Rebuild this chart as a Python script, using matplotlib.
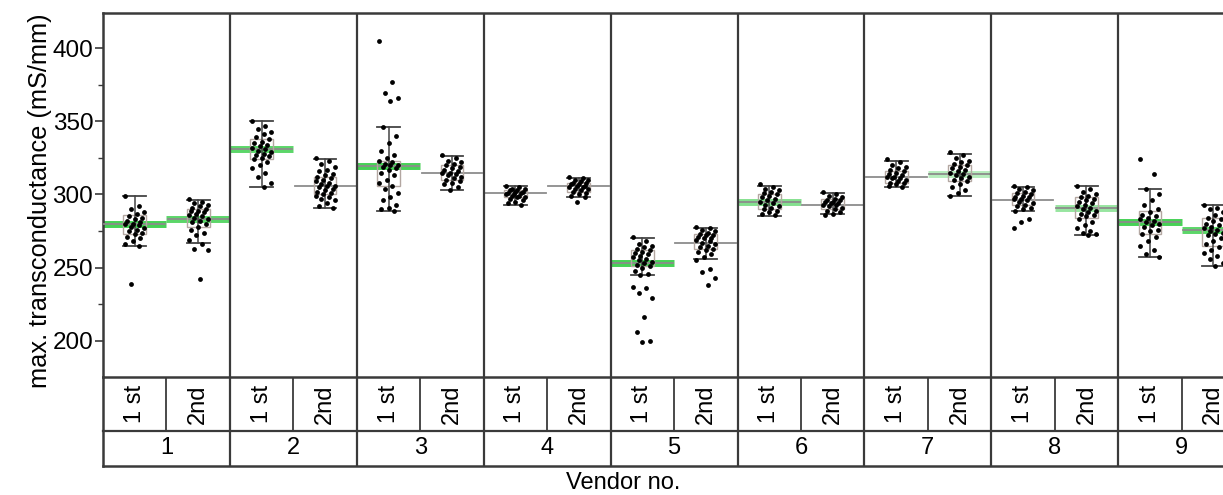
import numpy as np
import matplotlib
matplotlib.use("Agg")
import matplotlib.pyplot as plt

plt.rcParams['font.family'] = ['Liberation Sans', 'DejaVu Sans']

vendors = ["1", "2", "3", "4", "5", "6", "7", "8", "9"]
runs = ["1 st", "2nd"]

points = [
    [299, 292, 290, 288, 287, 285, 284, 283, 282, 281, 280, 280, 279, 278, 277, 276, 275, 274, 273, 271, 270, 268, 266, 265, 239],
    [297, 295, 294, 293, 292, 291, 290, 289, 289, 288, 287, 286, 285, 284, 283, 282, 281, 280, 278, 276, 274, 272, 269, 266, 263, 262, 242],
    [350, 347, 345, 343, 341, 339, 338, 336, 335, 334, 333, 332, 331, 330, 329, 328, 327, 326, 325, 324, 322, 320, 318, 315, 312, 308, 305],
    [325, 323, 321, 319, 317, 316, 314, 313, 312, 311, 310, 309, 308, 307, 306, 306, 305, 304, 303, 302, 301, 300, 299, 298, 297, 296, 294, 292, 291],
    [405, 377, 369, 366, 364, 346, 340, 335, 330, 327, 325, 323, 322, 321, 320, 320, 319, 318, 317, 315, 313, 310, 308, 306, 304, 301, 298, 296, 293, 291, 290, 289],
    [327, 325, 323, 322, 321, 320, 319, 318, 317, 316, 315, 315, 314, 313, 312, 311, 310, 309, 308, 307, 305, 303],
    [306, 305, 304, 304, 303, 303, 302, 302, 301, 301, 300, 300, 299, 299, 298, 298, 297, 296, 295, 294, 293],
    [312, 311, 310, 310, 309, 308, 308, 307, 307, 306, 306, 305, 305, 304, 304, 303, 302, 301, 300, 299, 298, 295],
    [271, 268, 266, 265, 264, 263, 262, 261, 260, 259, 258, 257, 256, 255, 254, 253, 252, 251, 250, 248, 246, 245, 237, 236, 233, 229, 216, 206, 200, 199],
    [278, 277, 276, 275, 274, 273, 272, 272, 271, 270, 270, 269, 268, 267, 266, 265, 264, 263, 262, 261, 259, 257, 255, 249, 247, 243, 238],
    [307, 305, 304, 303, 302, 301, 300, 299, 298, 297, 296, 295, 294, 293, 292, 291, 290, 289, 288, 287, 286],
    [302, 300, 299, 298, 297, 296, 296, 295, 295, 294, 294, 293, 293, 292, 291, 290, 289, 288, 287, 286],
    [324, 322, 320, 319, 318, 317, 316, 315, 314, 313, 312, 312, 311, 311, 310, 309, 308, 308, 307, 306, 305],
    [329, 327, 325, 323, 322, 321, 320, 319, 318, 317, 316, 315, 314, 313, 312, 311, 310, 309, 307, 305, 303, 301, 299],
    [306, 305, 304, 303, 302, 301, 300, 299, 298, 298, 297, 297, 296, 295, 294, 293, 292, 291, 290, 289, 283, 281, 277],
    [306, 304, 302, 300, 299, 298, 297, 296, 295, 294, 293, 292, 291, 290, 289, 288, 287, 286, 285, 283, 281, 279, 277, 275, 274, 273, 272],
    [324, 314, 304, 300, 296, 293, 290, 288, 286, 285, 284, 283, 282, 281, 280, 279, 278, 276, 275, 273, 271, 268, 265, 262, 259, 257],
    [293, 291, 290, 288, 286, 284, 283, 282, 280, 279, 278, 277, 276, 275, 274, 273, 272, 270, 268, 266, 264, 262, 260, 258, 256, 253, 251],
]
means = [280, 283, 331, 306, 319.5, 315, 300.7, 305.5, 253.5, 267, 295, 293, 312, 314, 296.5, 291, 281, 276]
whisk_lo = [265, 267, 305, 291, 289, 303, 293, 298, 245, 256, 285, 287, 305, 299, 289, 272, 257, 251]
whisk_hi = [299, 296, 350, 324, 346, 326, 306, 311, 270, 277, 306, 301, 323, 328, 305, 306, 304, 293]
box_lo = [273, 278, 324, 300, 306, 310, 298, 302, 251, 263, 290, 290, 308, 309, 293, 284, 273, 265]
box_hi = [286, 290, 338, 312, 323, 320, 303, 308, 262, 273, 300, 297, 316, 320, 301, 298, 289, 284]
# strength of the green mean bar (0 = none)
green = [0.9, 0.8, 0.8, 0, 0.9, 0, 0, 0, 0.9, 0, 0.6, 0, 0, 0.35, 0, 0.5, 0.9, 0.8]

W, H = 1223, 495
fig = plt.figure(figsize=(W / 100, H / 100), dpi=100)
left = 103 / W
width = (9 * 126.9) / W
ax = fig.add_axes([left, 1 - 377 / H, width, (377 - 13) / H])
tab = fig.add_axes([left, 1 - 466 / H, width, (466 - 377) / H])

edge = "#3a3a3a"
ax.set_xlim(0, 9)
ax.set_ylim(175.3, 424)

for g, vals in enumerate(points):
    v, r = divmod(g, 2)
    xc = v + 0.25 + 0.5 * r
    if green[g] > 0:
        ax.plot([xc - 0.25, xc + 0.25], [means[g]] * 2, color="#33cc44", lw=5,
                alpha=green[g], solid_capstyle="butt", zorder=2)
    ax.plot([xc - 0.24, xc + 0.24], [means[g]] * 2, color="#8c8c8c", lw=1.3, zorder=3)
    ax.add_patch(plt.Rectangle((xc - 0.09, box_lo[g]), 0.18, box_hi[g] - box_lo[g],
                               fill=False, ec="#b3a7a1", lw=1.0, zorder=3))
    ax.plot([xc, xc], [whisk_lo[g], whisk_hi[g]], color="#444444", lw=1.1, zorder=3)
    for y in (whisk_lo[g], whisk_hi[g]):
        ax.plot([xc - 0.09, xc + 0.09], [y, y], color="#444444", lw=1.3, zorder=3)
    n = len(vals)
    jit = (((np.arange(n) * 7) % 11) - 5) / 5 * 0.075
    ax.scatter(xc + jit, vals, s=12, color="black", lw=0, zorder=4)

for v in range(1, 9):
    ax.axvline(v, color=edge, lw=1.6, zorder=5)

ax.set_xticks([])
ax.set_yticks([200, 250, 300, 350, 400])
ax.set_yticks(np.arange(200, 425, 25), minor=True)
ax.tick_params(axis="y", which="major", length=6, width=1.2, color=edge, labelsize=17.5, pad=1)
ax.tick_params(axis="y", which="minor", length=3.5, width=1.0, color=edge)
for s in ax.spines.values():
    s.set_color(edge)
    s.set_linewidth(1.8)
ax.spines["bottom"].set_visible(False)

# label table below the plot
tab.set_xlim(0, 9)
tab.set_ylim(0, 1)
tab.axis("off")
split = 35 / 89
tab.plot([0, 9], [1, 1], color=edge, lw=1.8, clip_on=False)
tab.plot([0, 9], [split, split], color=edge, lw=1.6, clip_on=False)
tab.plot([0, 9], [0, 0], color=edge, lw=1.8, clip_on=False)
tab.plot([0, 0], [0, 1], color=edge, lw=1.8, clip_on=False)
for v in range(1, 9):
    tab.plot([v, v], [0, 1], color=edge, lw=1.6)
for v in range(9):
    tab.plot([v + 0.5, v + 0.5], [split, 1], color=edge, lw=1.3)
    tab.text(v + 0.5, split / 2, vendors[v], ha="center", va="center", fontsize=17)
    for r in range(2):
        tab.text(v + 0.25 + 0.5 * r, (1 + split) / 2, runs[r], rotation=90,
                 ha="center", va="center", fontsize=17)

fig.text(40 / W, 1 - 201 / H, "max. transconductance (mS/mm)", rotation=90,
         ha="center", va="center", fontsize=18.3)
fig.text(623 / W, 1 - 483 / H, "Vendor no.", ha="center", va="center", fontsize=17)

fig.savefig("out.png", dpi=100)
